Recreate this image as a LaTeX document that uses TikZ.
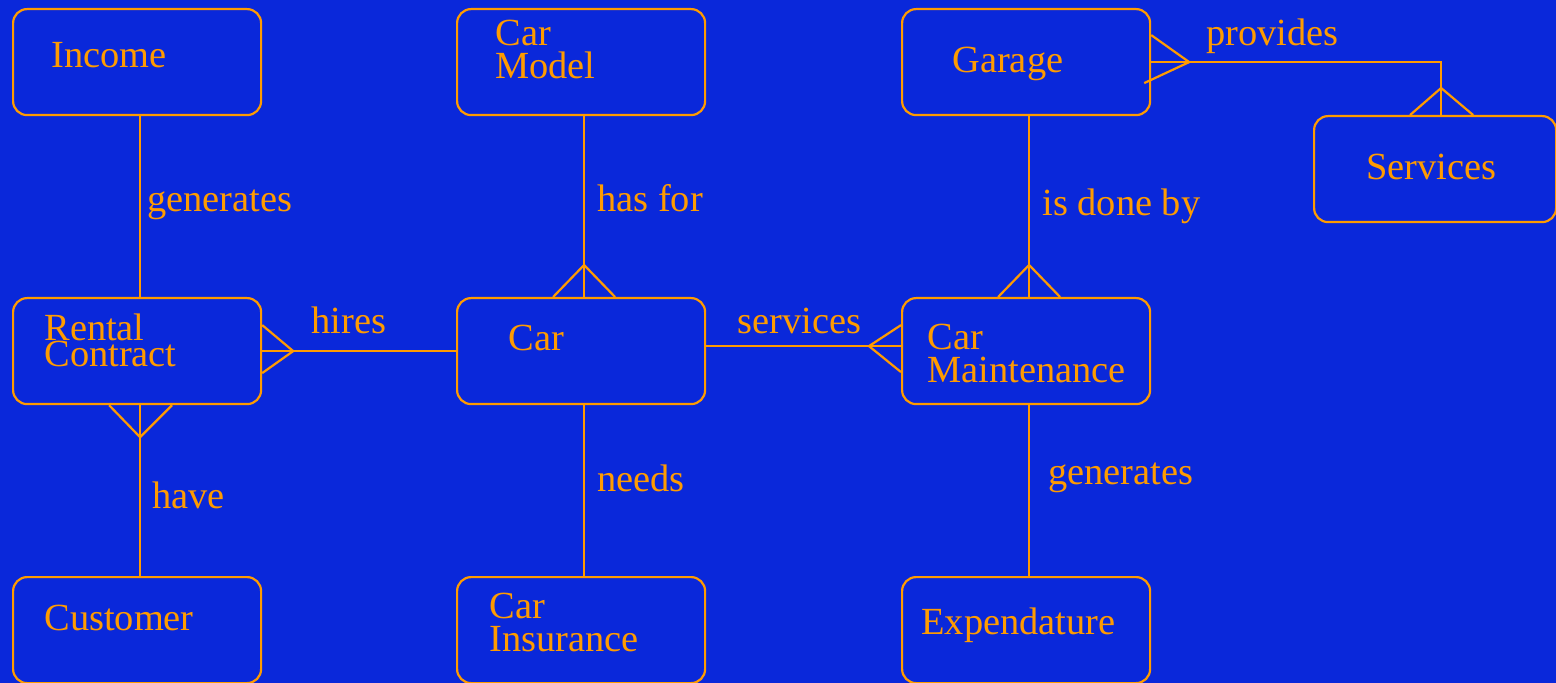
\documentclass[tikz,border=0pt]{standalone}
\usepackage{fontspec}
\setmainfont{Liberation Serif}
\usetikzlibrary{calc}
\definecolor{bgblue}{RGB}{10,40,218}
\definecolor{ercol}{RGB}{255,155,0}
\setlength{\lineskiplimit}{-20pt}
\begin{document}
\begin{tikzpicture}[x=0.5pt,y=-0.5pt,
  entity/.style={draw=ercol, line width=1.1pt, rounded corners=7pt,
    minimum width=124pt, minimum height=53pt, inner sep=0pt, anchor=north west},
  etext/.style={text=ercol, anchor=base west, inner sep=0pt, align=left,
    font=\fontsize{19.2}{16.5}\selectfont},
  etight/.style={etext, font=\fontsize{19.2}{13}\selectfont},
  rel/.style={draw=ercol, line width=1.1pt},
  rlabel/.style={text=ercol, anchor=base west, inner sep=0pt,
    font=\fontsize{19.2}{22}\selectfont}]
\fill[bgblue] (0,0) rectangle (1556,683);
\useasboundingbox (0,0) rectangle (1556,683);

% entities
\node[entity] (income)   at (12,8) {};
\node[entity] (carmodel) at (456,8) {};
\node[entity] (garage)   at (901,8) {};
\node[entity, minimum width=121pt] (services) at (1313,115) {};
\node[entity] (rental)   at (12,297) {};
\node[entity] (car)      at (456,297) {};
\node[entity] (maint)    at (901,297) {};
\node[entity] (customer) at (12,576) {};
\node[entity] (insur)    at (456,576) {};
\node[entity] (expend)   at (901,576) {};

% entity texts (base anchor = baseline of the last line)
\node[etext] (t-income)   at (51,68)   {Income};
\node[etext] (t-carmodel) at (495,79)  {Car\\Model};
\node[etext] (t-garage)   at (952,73)  {Garage};
\node[etext] (t-services) at (1366,180) {Services};
\node[etight] (t-rental)  at (44,367)  {Rental\\Contract};
\node[etext] (t-car)      at (508,351) {Car};
\node[etext] (t-maint)    at (927,383) {Car\\Maintenance};
\node[etext] (t-customer) at (44,630)  {Customer};
\node[etext] (t-insur)    at (489,651) {Car\\Insurance};
\node[etext] (t-expend)   at (921,634) {Expendature};

% relationships
% Income -- Rental Contract
\draw[rel] ($(income.south)+(3,0)$) -- ($(rental.north)+(3,0)$);
% Rental Contract -- Customer (many at Rental Contract)
\draw[rel] ($(rental.south)+(3,0)$) -- ($(customer.north)+(3,0)$);
\draw[rel] ($(rental.south)+(-28,0)$) -- ($(rental.south)+(3,32)$) -- ($(rental.south)+(35,0)$);
% Rental Contract -- Car (many at Rental Contract)
\draw[rel] (rental.east) -- (car.west);
\draw[rel] ($(rental.east)+(0,-26)$) -- ($(rental.east)+(31,0)$) -- ($(rental.east)+(0,22)$);
% Car Model -- Car (many at Car)
\draw[rel] ($(carmodel.south)+(3,0)$) -- ($(car.north)+(3,0)$);
\draw[rel] ($(car.north)+(-28,0)$) -- ($(car.north)+(3,-32)$) -- ($(car.north)+(34,0)$);
% Car -- Car Insurance
\draw[rel] ($(car.south)+(3,0)$) -- ($(insur.north)+(3,0)$);
% Car -- Car Maintenance (many at Car Maintenance)
\draw[rel] ($(car.east)+(0,-5)$) -- ($(maint.west)+(0,-5)$);
\draw[rel] ($(maint.west)+(0,-26)$) -- ($(maint.west)+(-32,-5)$) -- ($(maint.west)+(0,21)$);
% Garage -- Car Maintenance (many at Car Maintenance)
\draw[rel] ($(garage.south)+(3,0)$) -- ($(maint.north)+(3,0)$);
\draw[rel] ($(maint.north)+(-28,0)$) -- ($(maint.north)+(3,-32)$) -- ($(maint.north)+(34,0)$);
% Car Maintenance -- Expendature
\draw[rel] ($(maint.south)+(3,0)$) -- ($(expend.north)+(3,0)$);
% Garage -- Services (many at both ends)
\draw[rel] (garage.east) -| ($(services.north)+(6,0)$);
\draw[rel] ($(garage.east)+(0,-27)$) -- ($(garage.east)+(38,0)$) -- ($(garage.east)+(-7,21)$);
\draw[rel] ($(services.north)+(-25,0)$) -- ($(services.north)+(6,-27)$) -- ($(services.north)+(38,0)$);

% relationship labels
\node[rlabel] (l-gen1)   at (147,212)  {generates};
\node[rlabel] (l-hasfor) at (597,212)  {has for};
\node[rlabel] (l-isdone) at (1042,216) {is done by};
\node[rlabel] (l-prov)   at (1206,46)  {provides};
\node[rlabel] (l-hires)  at (311,334)  {hires};
\node[rlabel] (l-serv)   at (737,334)  {services};
\node[rlabel] (l-have)   at (152,508)  {have};
\node[rlabel] (l-needs)  at (597,491)  {needs};
\node[rlabel] (l-gen2)   at (1048,484) {generates};
\end{tikzpicture}
\end{document}
